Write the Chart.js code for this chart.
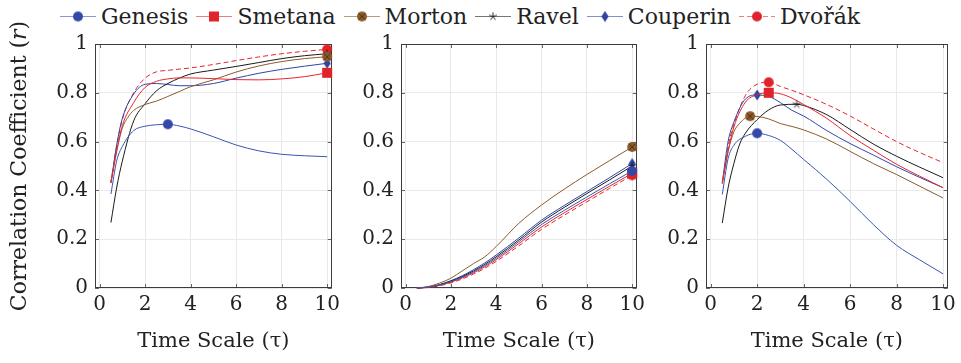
<!DOCTYPE html>
<html><head><meta charset="utf-8">
<script src="https://cdn.jsdelivr.net/npm/chart.js@4"></script>
<style>
html,body{margin:0;padding:0;background:#fff;}
#wrap{position:relative;width:961px;height:363px;overflow:hidden;background:#fff;}
canvas.panel{position:absolute;top:0;}
#legend{position:absolute;top:2px;left:60px;height:28px;display:flex;align-items:center;font-family:'DejaVu Serif',serif;font-size:22px;color:#222;white-space:nowrap;}
.item{display:flex;align-items:center;margin-right:8px;}
.item canvas{margin-right:5px;}
</style></head><body>
<div id="wrap">
<div id="legend"></div>
<canvas id="c1" class="panel" width="345" height="363" style="left:0px"></canvas>
<canvas id="c2" class="panel" width="305" height="363" style="left:345px"></canvas>
<canvas id="c3" class="panel" width="311" height="363" style="left:650px"></canvas>
</div>
<script>
// ---------- data ----------
const seriesNames = ['Genesis', 'Smetana', 'Morton', 'Ravel', 'Couperin', 'Dvořák'];
const xTickValues = [0, 2, 4, 6, 8, 10];
const yTickValues = [0, 0.2, 0.4, 0.6, 0.8, 1];

// Panel 1  [tau, r]
const genesisA  = [[0.5,0.385],[0.75,0.52],[1,0.58],[1.5,0.645],[2,0.663],[2.5,0.669],[3,0.671],[3.5,0.664],[4,0.652],[5,0.62],[6,0.586],[7,0.562],[8,0.548],[9,0.542],[10,0.538]];
const smetanaA  = [[0.5,0.43],[0.75,0.56],[1,0.665],[1.5,0.76],[2,0.822],[2.5,0.847],[3,0.857],[3.5,0.861],[4,0.861],[5,0.858],[6,0.854],[7,0.853],[8,0.857],[9,0.866],[10,0.882]];
const mortonA   = [[0.5,0.435],[0.75,0.56],[1,0.655],[1.25,0.70],[1.5,0.728],[2,0.752],[2.5,0.766],[3,0.785],[3.5,0.805],[4,0.825],[5,0.853],[6,0.885],[7,0.91],[8,0.928],[9,0.94],[10,0.948]];
const ravelA    = [[0.5,0.268],[0.75,0.41],[1,0.52],[1.5,0.685],[2,0.755],[2.5,0.808],[3,0.838],[3.5,0.86],[4,0.877],[5,0.893],[6,0.908],[7,0.924],[8,0.94],[9,0.952],[10,0.96]];
const couperinA = [[0.5,0.43],[0.75,0.585],[1,0.695],[1.5,0.795],[2,0.835],[2.5,0.838],[3,0.834],[3.5,0.829],[4,0.829],[5,0.838],[6,0.86],[7,0.88],[8,0.896],[9,0.909],[10,0.921]];
const dvorakA   = [[0.5,0.435],[0.75,0.58],[1,0.69],[1.5,0.8],[2,0.86],[2.5,0.886],[3,0.892],[3.5,0.897],[4,0.902],[5,0.916],[6,0.932],[7,0.947],[8,0.96],[9,0.97],[10,0.978]];

// Panel 2
const tauB      = [0.5, 1, 1.5, 2, 2.5, 3, 3.5, 4, 5, 6, 7, 8, 9, 10];
const genesisB  = [0,0.003,0.012,0.026,0.044,0.066,0.092,0.122,0.19,0.26,0.318,0.373,0.427,0.48];
const smetanaB  = [0,0.003,0.011,0.024,0.041,0.062,0.087,0.116,0.182,0.25,0.308,0.363,0.417,0.47];
const mortonB   = [0,0.006,0.02,0.04,0.07,0.1,0.128,0.17,0.265,0.34,0.405,0.465,0.522,0.578];
const ravelB    = [0,0.003,0.013,0.028,0.047,0.07,0.097,0.128,0.197,0.27,0.33,0.387,0.443,0.50];
const couperinB = [0,0.004,0.014,0.03,0.05,0.075,0.103,0.135,0.205,0.278,0.338,0.395,0.452,0.51];
const dvorakB   = [0,0.002,0.009,0.021,0.037,0.057,0.081,0.109,0.173,0.24,0.298,0.353,0.408,0.462];

// Panel 3  [tau, r]
const genesisC  = [[0.5,0.383],[0.75,0.53],[1,0.585],[1.5,0.622],[2,0.634],[2.5,0.625],[3,0.605],[3.5,0.568],[4,0.527],[4.5,0.487],[5,0.445],[5.5,0.401],[6,0.355],[7,0.26],[8,0.175],[9,0.115],[10,0.058]];
const smetanaC  = [[0.5,0.428],[0.75,0.56],[1,0.66],[1.5,0.762],[2,0.792],[2.5,0.80],[3,0.796],[3.5,0.778],[4,0.752],[5,0.695],[6,0.625],[7,0.565],[8,0.507],[9,0.458],[10,0.411]];
const mortonC   = [[0.5,0.435],[0.75,0.56],[1,0.64],[1.25,0.675],[1.7,0.704],[2,0.703],[2.5,0.693],[3,0.674],[3.5,0.662],[4,0.648],[5,0.61],[6,0.56],[7,0.51],[8,0.465],[9,0.417],[10,0.369]];
const ravelC    = [[0.5,0.266],[0.75,0.41],[1,0.51],[1.25,0.59],[1.5,0.635],[2,0.69],[2.5,0.73],[3,0.75],[3.7,0.753],[4,0.748],[5,0.71],[6,0.65],[7,0.59],[8,0.54],[9,0.495],[10,0.452]];
const couperinC = [[0.5,0.43],[0.75,0.6],[1,0.68],[1.5,0.775],[2,0.791],[2.5,0.785],[3,0.76],[3.5,0.728],[4,0.705],[5,0.645],[6,0.592],[7,0.545],[8,0.497],[9,0.453],[10,0.411]];
const dvorakC   = [[0.5,0.428],[0.75,0.58],[1,0.67],[1.5,0.79],[2,0.835],[2.5,0.843],[3,0.826],[3.5,0.81],[4,0.792],[5,0.752],[6,0.705],[7,0.652],[8,0.6],[9,0.555],[10,0.514]];

// ---------- styles ----------
const FONT = "'DejaVu Serif', serif";
const styles = [
  {line:'#3a55b0', fill:'#3448a8', marker:'circle', dash:[]},
  {line:'#e5262c', fill:'#e0222a', marker:'square', dash:[]},
  {line:'#8a5a2c', fill:'#8b5a2b', marker:'otimes', dash:[]},
  {line:'#1a1a1a', fill:'#1a1a1a', marker:'star', dash:[]},
  {line:'#2f47a6', fill:'#2f44a0', marker:'diamond', dash:[]},
  {line:'#e5262c', fill:'#e0222a', marker:'circle', dash:[5,3]}
];

function makeMarker(st){
  const c = document.createElement('canvas');
  c.width = 12; c.height = 12;
  const g = c.getContext('2d');
  const cx = 6, cy = 6;
  g.fillStyle = st.fill; g.strokeStyle = st.fill;
  if (st.marker === 'circle') {
    g.beginPath(); g.arc(cx, cy, 5, 0, Math.PI*2); g.fill();
  } else if (st.marker === 'square') {
    g.fillRect(1, 1, 10, 10);
  } else if (st.marker === 'otimes') {
    g.beginPath(); g.arc(cx, cy, 5, 0, Math.PI*2); g.fill();
    g.strokeStyle = '#4a2e14'; g.lineWidth = 0.9;
    g.beginPath(); const d = 3.5;
    g.moveTo(cx-d, cy-d); g.lineTo(cx+d, cy+d); g.moveTo(cx+d, cy-d); g.lineTo(cx-d, cy+d); g.stroke();
  } else if (st.marker === 'star') {
    g.strokeStyle = st.fill; g.lineWidth = 0.9; g.beginPath();
    for (let k = 0; k < 5; k++) { const a = -Math.PI/2 + k*2*Math.PI/5; g.moveTo(cx, cy); g.lineTo(cx+4.2*Math.cos(a), cy+4.2*Math.sin(a)); }
    g.stroke();
  } else if (st.marker === 'diamond') {
    g.beginPath(); g.moveTo(cx, 0.5); g.lineTo(cx+3.6, cy); g.lineTo(cx, 11.5); g.lineTo(cx-3.6, cy); g.closePath(); g.fill();
  }
  return c;
}
const markers = styles.map(makeMarker);

// ---------- legend ----------
const legend = document.getElementById('legend');
seriesNames.forEach((name, i) => {
  const item = document.createElement('div'); item.className = 'item';
  const c = document.createElement('canvas'); c.width = 36; c.height = 20;
  const g = c.getContext('2d');
  g.strokeStyle = styles[i].line; g.globalAlpha = 0.6; g.lineWidth = 1.2;
  g.setLineDash(styles[i].dash);
  g.beginPath(); g.moveTo(0, 10.5); g.lineTo(36, 10.5); g.stroke();
  g.globalAlpha = 1; g.setLineDash([]);
  g.drawImage(markers[i], 18 - 6, 10.5 - 6);
  const t = document.createElement('span'); t.textContent = name;
  item.appendChild(c); item.appendChild(t); legend.appendChild(item);
});

// ---------- charts ----------
const framePlugin = {
  id: 'frame',
  beforeDatasetsDraw(chart) {
    const {ctx, chartArea: a, scales: {x, y}} = chart;
    ctx.save();
    ctx.strokeStyle = '#666'; ctx.lineWidth = 1;
    ctx.beginPath();
    xTickValues.forEach(v => {
      const px = Math.round(x.getPixelForValue(v)) + 0.5;
      ctx.moveTo(px, a.bottom); ctx.lineTo(px, a.bottom - 4);
      ctx.moveTo(px, a.top); ctx.lineTo(px, a.top + 4);
    });
    yTickValues.forEach(v => {
      const py = Math.round(y.getPixelForValue(v)) + 0.5;
      ctx.moveTo(a.left, py); ctx.lineTo(a.left + 4, py);
      ctx.moveTo(a.right, py); ctx.lineTo(a.right - 4, py);
    });
    ctx.stroke();
    ctx.strokeStyle = '#3c3c3c';
    ctx.strokeRect(Math.round(a.left) + 0.5, Math.round(a.top) + 0.5, Math.round(a.right - a.left) - 1, Math.round(a.bottom - a.top) - 1);
    ctx.restore();
  }
};

function toPoints(arr){ return arr.map(p => ({x: p[0], y: p[1]})); }
function zipPoints(xs, ys){ return xs.map((v, i) => ({x: v, y: ys[i]})); }

function makeDatasets(list){
  return list.map((pts, i) => {
    let best = 0;
    pts.forEach((p, k) => { if (p.y > pts[best].y) best = k; });
    return {
      label: seriesNames[i],
      data: pts,
      borderColor: styles[i].line,
      backgroundColor: styles[i].fill,
      borderWidth: 1,
      borderDash: styles[i].dash,
      pointStyle: markers[i],
      pointRadius: ctx => ctx.dataIndex === best ? 5 : 0,
      pointHoverRadius: 0,
      cubicInterpolationMode: 'monotone',
      fill: false,
      clip: 10
    };
  });
}

function makeChart(id, list, yWidth, padRight, showYTitle){
  new Chart(document.getElementById(id), {
    type: 'line',
    data: {datasets: makeDatasets(list)},
    options: {
      responsive: false, animation: false, events: [],
      layout: {padding: {top: 44, right: padRight, left: 0, bottom: 0}},
      plugins: {legend: {display: false}, tooltip: {enabled: false}},
      scales: {
        x: {
          type: 'linear', min: -0.2, max: 10.2,
          afterBuildTicks: s => { s.ticks = xTickValues.map(v => ({value: v})); },
          afterFit: s => { s.height = 75; },
          ticks: {font: {family: FONT, size: 20}, color: '#222', padding: 5, maxRotation: 0, callback: v => String(v)},
          grid: {color: '#e9e9e9', drawTicks: false},
          border: {display: false},
          title: {display: true, text: 'Time Scale (τ)', font: {family: FONT, size: 21}, color: '#222', padding: {top: 0, bottom: 9}}
        },
        y: {
          type: 'linear', min: 0, max: 1,
          afterBuildTicks: s => { s.ticks = yTickValues.map(v => ({value: v})); },
          afterFit: s => { s.width = yWidth; },
          ticks: {font: {family: FONT, size: 20}, color: '#222', padding: 7, callback: v => String(v)},
          grid: {color: '#e9e9e9', drawTicks: false},
          border: {display: false},
          title: {display: showYTitle, text: 'Correlation Coefficient (𝑟)', font: {family: FONT, size: 22}, color: '#222', padding: {top: 7, bottom: 0}}
        }
      }
    },
    plugins: [framePlugin]
  });
}

makeChart('c1', [genesisA, smetanaA, mortonA, ravelA, couperinA, dvorakA].map(toPoints), 95, 6, true);
makeChart('c2', [genesisB, smetanaB, mortonB, ravelB, couperinB, dvorakB].map(ys => zipPoints(tauB, ys)), 56, 6, false);
makeChart('c3', [genesisC, smetanaC, mortonC, ravelC, couperinC, dvorakC].map(toPoints), 56, 12, false);
</script>
</body></html>
